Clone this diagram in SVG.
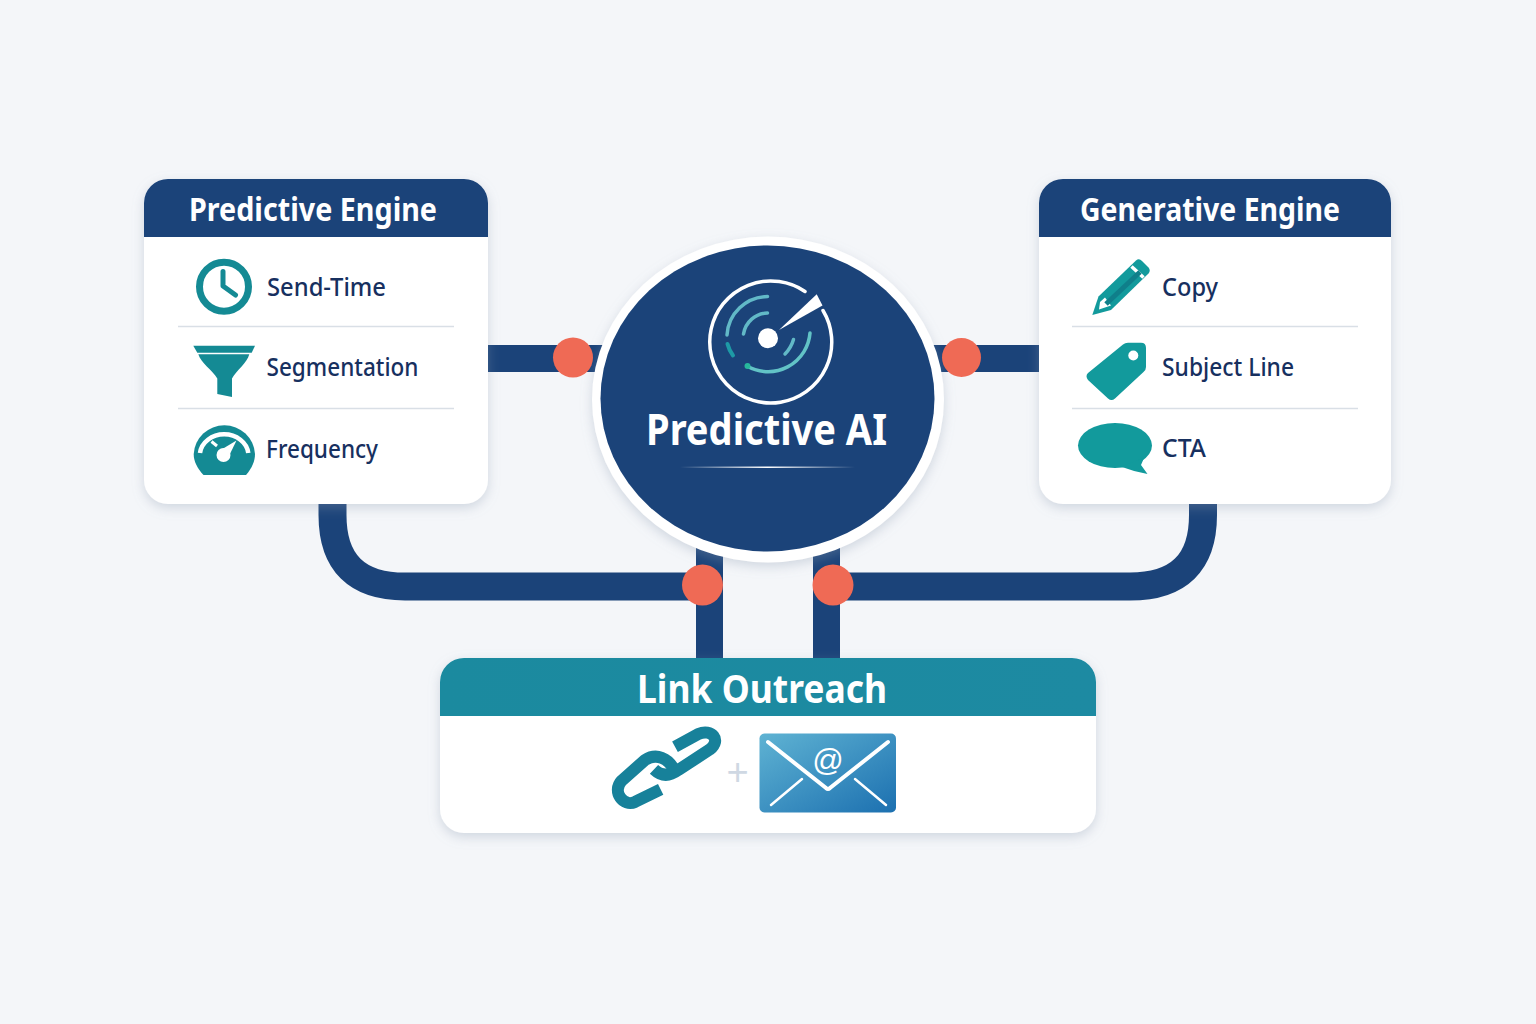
<svg xmlns="http://www.w3.org/2000/svg" width="1536" height="1024" viewBox="0 0 1536 1024">
<style>
text{font-family:"Noto Sans","Liberation Sans",sans-serif}
.h{font-weight:700;font-size:32px;fill:#fff}
.l{font-weight:500;font-size:26px;fill:#17305f}
.d{stroke:#d9dfe6;stroke-width:1.5;fill:none}
.t{fill:#129a9c}
.n{fill:#148a94}
.c{fill:none;stroke:#1b4379}
.p{fill:#ef6a55}
</style>
<defs>
<filter id="s" x="-10%" y="-10%" width="120%" height="125%"><feDropShadow dx="0" dy="4" stdDeviation="6" flood-color="#8c9bb0" flood-opacity=".35"/></filter>
<linearGradient id="env" x1="0" y1="0" x2="1" y2="1"><stop offset="0" stop-color="#5fb3d3"/><stop offset="1" stop-color="#1c70b0"/></linearGradient>
<linearGradient id="hd" x1="0" y1="0" x2="1" y2="0"><stop offset="0" stop-color="#1b8a9f"/><stop offset="1" stop-color="#1d8aa2"/></linearGradient>
<linearGradient id="rule" x1="0" y1="0" x2="1" y2="0"><stop offset="0" stop-color="#fff" stop-opacity="0"/><stop offset=".5" stop-color="#fff"/><stop offset="1" stop-color="#fff" stop-opacity="0"/></linearGradient>
</defs>
<rect width="1536" height="1024" fill="#f4f6f9"/>
<g id="connectors">
<path class="c" stroke-width="27" d="M480 358.500H610M925 358.500H1045"/>
<path class="c" stroke-width="27" d="M709.500 540V665M826.500 540V665"/>
<path class="c" stroke-width="28" d="M332.500 500V515Q332.500 586.500 405 586.500H705"/>
<path class="c" stroke-width="28" d="M1203 500V515Q1203 586.500 1130 586.500H830"/>
</g>
<g id="predictive-engine">
<rect x="144" y="179" width="344" height="325" rx="24" fill="#fff" filter="url(#s)"/>
<path d="M144 237V203a24 24 0 0 1 24-24H464a24 24 0 0 1 24 24V237Z" fill="#1b4379"/>
<text class="h" x="189" y="221" textLength="248" lengthAdjust="spacingAndGlyphs">Predictive Engine</text>
<path class="d" d="M178 326.500H454M178 408.500H454"/>
<g id="icon-clock"><circle cx="224" cy="286.700" r="24.500" fill="none" stroke="#148a94" stroke-width="7"/><path d="M223 271.500V286L235.500 295" fill="none" stroke="#148a94" stroke-width="5" stroke-linecap="round" stroke-linejoin="round"/></g>
<text class="l" x="267" y="296" textLength="119" lengthAdjust="spacingAndGlyphs">Send-Time</text>
<g id="icon-funnel"><path class="n" d="M193.300 345.700H255L251.700 352.700H197.300Z"/><path class="n" d="M198.300 354.300H249.300C247 363 237 370 232 378.500V397L217.300 394V378.500C212 370 201 363 198.300 354.300Z"/></g>
<text class="l" x="266.500" y="376" textLength="152" lengthAdjust="spacingAndGlyphs">Segmentation</text>
<g id="icon-gauge"><path class="n" d="M203.500 475C197 468 193.700 461 193.700 454A30.700 30.500 0 0 1 255 454C255 461 252 468 246 475Z"/><path d="M200 453A24.300 21 0 0 1 248.300 453" fill="none" stroke="#fff" stroke-width="4.500"/><circle cx="223.500" cy="455" r="7" fill="#fff"/><path d="M219 451L236.500 440.500L228 458Z" fill="#fff"/><path d="M211.500 441.500L217 446" stroke="#fff" stroke-width="3"/></g>
<text class="l" x="266" y="458" textLength="112" lengthAdjust="spacingAndGlyphs">Frequency</text>
</g>
<g id="generative-engine">
<rect x="1039" y="179" width="352" height="325" rx="24" fill="#fff" filter="url(#s)"/>
<path d="M1039 237V203a24 24 0 0 1 24-24H1367a24 24 0 0 1 24 24V237Z" fill="#1b4379"/>
<text class="h" x="1080" y="221" textLength="260" lengthAdjust="spacingAndGlyphs">Generative Engine</text>
<path class="d" d="M1072 326.500H1358M1072 408.500H1358"/>
<g id="icon-pencil"><path class="t" d="M1098.500 296.500L1136 260.500Q1139 258 1142 261L1148.500 267.500Q1151 270.500 1148.500 273.500L1111 310L1092.300 315Z"/><path d="M1100 302L1105 297.500L1111 305.500L1099 309.500Z" fill="#fff"/><path d="M1131.500 266.500L1143.500 277.500" stroke="#fff" stroke-width="3.500"/><path d="M1106 304L1140 272" stroke="#0f7f8a" stroke-width="5"/></g>
<text class="l" x="1162" y="296" textLength="56" lengthAdjust="spacingAndGlyphs">Copy</text>
<g id="icon-tag"><path class="t" d="M1088 373L1123 344.500Q1125 342.700 1128 342.700H1141Q1146 342.700 1146 348V367Q1146 370 1143.500 372L1115 398.500Q1111.500 401.500 1108 398.500L1088 380Q1085 376 1088 373Z"/><circle cx="1133.300" cy="355.500" r="5" fill="#fff"/></g>
<text class="l" x="1162" y="376" textLength="132" lengthAdjust="spacingAndGlyphs">Subject Line</text>
<g id="icon-bubble"><ellipse class="t" cx="1115" cy="445.500" rx="37" ry="22.500"/><path class="t" d="M1125 465L1144 458L1141 465L1147.500 474Q1135 472 1122 467Z"/></g>
<text class="l" x="1162" y="457" textLength="44" lengthAdjust="spacingAndGlyphs">CTA</text>
</g>
<g id="predictive-ai">
<ellipse cx="768" cy="399.500" rx="176" ry="163" fill="#fff" filter="url(#s)"/>
<ellipse cx="767.500" cy="398.500" rx="167" ry="153" fill="#1b4379"/>
<g id="icon-radar" fill="none" stroke-linecap="round">
<path d="M805 291.500A61 61 0 1 0 823 310.500" stroke="#fff" stroke-width="3.500"/>
<path d="M767.500 296.500A41 41 0 0 0 727 335" stroke="#62b9c7" stroke-width="3.500"/>
<path d="M767.500 313A25 25 0 0 0 743.500 334" stroke="#62b9c7" stroke-width="3.500"/>
<path d="M727.500 344Q729 350 733 355.500" stroke="#1e9aa6" stroke-width="4"/>
<path d="M747 366A42 42 0 0 0 810 333" stroke="#62c3c6" stroke-width="3.500"/>
<path d="M793.500 339.500Q791 348 785 354" stroke="#62b9c7" stroke-width="3.500"/>
<circle cx="747.500" cy="366" r="3" fill="#27b89c"/>
<circle cx="768" cy="338.300" r="10" fill="#fff"/>
<path d="M779 330L816.700 294.300L822.500 305.500Z" fill="#fff"/>
</g>
<text x="646" y="445" textLength="241" lengthAdjust="spacingAndGlyphs" style="font-weight:700;font-size:43px;fill:#fff">Predictive AI</text>
<rect x="680" y="466.500" width="175" height="1.500" fill="url(#rule)"/>
</g>
<g id="link-outreach">
<rect x="440" y="658" width="656" height="175" rx="24" fill="#fff" filter="url(#s)"/>
<path d="M440 716V682a24 24 0 0 1 24-24H1072a24 24 0 0 1 24 24V716Z" fill="url(#hd)"/>
<text x="637" y="703" textLength="250" lengthAdjust="spacingAndGlyphs" style="font-weight:700;font-size:39px;fill:#fff">Link Outreach</text>
<g id="icon-link" transform="translate(590 710) scale(.3333)" fill="none" stroke="#17819a" stroke-width="36" stroke-linecap="butt" stroke-linejoin="round">
<path d="M212 238L135 276C100 292 65 245 95 212L165 150C200 128 235 145 252 178"/>
<path d="M192 178C215 200 240 198 265 180L360 118C395 90 365 55 325 72L255 110"/>
</g>
<text x="737.500" y="785" text-anchor="middle" style="font-size:38px;fill:#cfd8e3;font-family:'Liberation Sans',sans-serif">+</text>
<g id="icon-mail">
<rect x="759.500" y="733.500" width="136.500" height="79" rx="5" fill="url(#env)"/>
<path d="M768 742L826 788Q828 790 830 788L888 742" fill="none" stroke="#fff" stroke-width="4" stroke-linecap="round"/>
<path d="M802 779L771 805M855 779L886 805" fill="none" stroke="#fff" stroke-width="2.500" stroke-linecap="round"/>
<text x="828" y="771" text-anchor="middle" style="font-size:31px;fill:#fff;font-family:'Liberation Sans',sans-serif">@</text>
</g>
</g>
<g id="junctions">
<circle class="p" cx="573" cy="357.500" r="20"/>
<circle class="p" cx="961.500" cy="357.500" r="19.500"/>
<circle class="p" cx="702.500" cy="585" r="20.500"/>
<circle class="p" cx="833" cy="585" r="20.500"/>
</g>
</svg>
